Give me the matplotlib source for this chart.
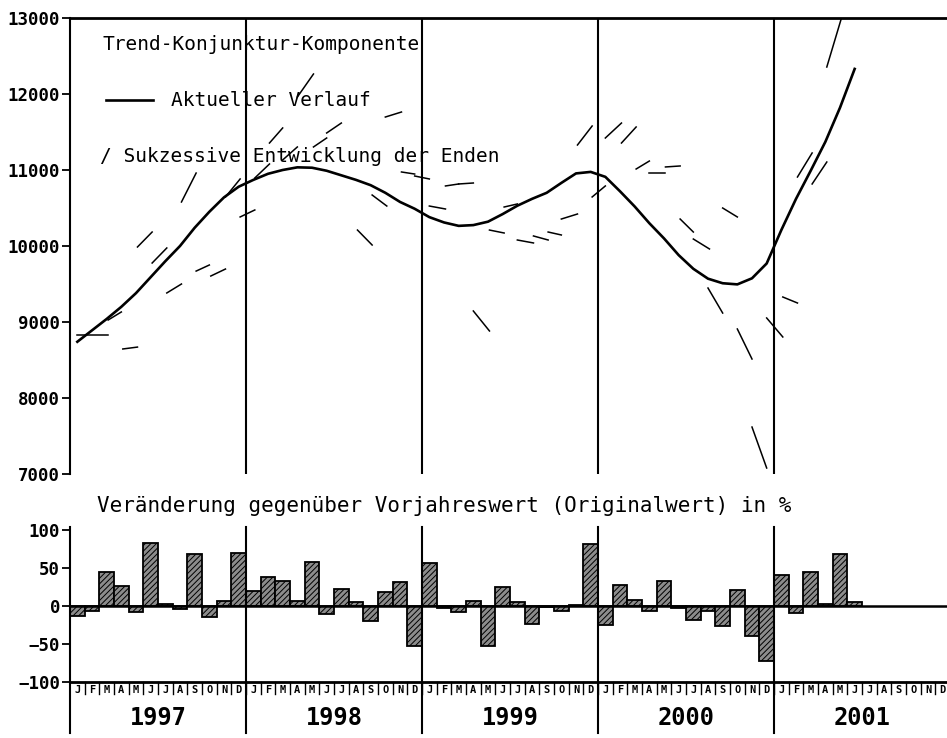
import numpy as np
import matplotlib.pyplot as plt

# trend-cycle component, Jan 1997 .. Jun 2001
trend = [8740, 8890, 9040, 9200, 9380, 9590, 9800, 10000, 10240, 10450, 10640, 10780,
         10870, 10950, 11000, 11035, 11030, 10990, 10930, 10870, 10800, 10700, 10580, 10490,
         10380, 10310, 10265, 10275, 10320, 10420, 10530, 10620, 10700, 10830, 10955, 10975,
         10910, 10720, 10520, 10300, 10100, 9880, 9700, 9570, 9510, 9495, 9575, 9770,
         10210, 10620, 10990, 11370, 11820, 12330]

# successive end estimates (month index start/end, value start/end)
seg_m0 = [0, 2.1, 3.1, 4.1, 5.1, 6.1, 7.1, 8.1, 9.1, 10.1, 11.1, 12.1, 13.1, 14.0, 15.0, 16.1, 17.0,
          19.1, 20.1, 21.0, 22.1, 23.0, 24.0, 25.1, 26.0, 27.0, 28.1, 29.1, 30.0, 31.1, 32.1, 33.0,
          34.1, 35.1, 36.0, 37.1, 38.1, 39.0, 40.1, 41.1, 42.0, 43.0, 44.0, 45.0, 46.0, 47.0, 48.1,
          49.1, 50.1, 51.1]
seg_m1 = [2.1, 3.0, 4.1, 5.1, 6.1, 7.1, 8.1, 9.0, 10.1, 11.1, 12.1, 13.1, 14.0, 15.0, 16.1, 17.0, 18.0,
          20.1, 21.1, 22.1, 23.0, 24.0, 25.1, 26.0, 27.0, 28.1, 29.1, 30.0, 31.1, 32.1, 33.0, 34.1,
          35.1, 36.0, 37.1, 38.1, 39.0, 40.1, 41.1, 42.0, 43.1, 44.0, 45.0, 46.0, 47.0, 48.1, 49.1,
          50.1, 51.1, 52.1]
seg_v0 = [8830, 9026, 8645, 9987, 9776, 9382, 10579, 9670, 9605, 10645, 10382, 10895, 11355, 11132,
          11960, 11303, 11487, 10210, 10671, 11697, 10974, 10921, 10526, 10790, 10816, 9145, 10210,
          10513, 10079, 10132, 10184, 10355, 11329, 10645, 11421, 11355, 11013, 10960, 11040, 10355,
          10092, 9447, 10500, 8908, 7618, 9053, 9329, 10908, 10816, 12355]
seg_v1 = [8830, 9132, 8670, 10184, 9974, 9500, 10960, 9750, 9697, 10882, 10474, 11079, 11553, 11303,
          12263, 11421, 11618, 10013, 10526, 11763, 10947, 10882, 10487, 10816, 10829, 8882, 10171,
          10553, 10040, 10079, 10145, 10421, 11579, 10790, 11618, 11566, 11118, 10960, 11053, 10184,
          9961, 9118, 10382, 8513, 7079, 8803, 9250, 11224, 11105, 13000]

# change against previous year's value (%)
chg_1997 = [-13, -6, 45, 26, -8, 83, 3, -4, 68, -14, 7, 70]
chg_1998 = [20, 38, 33, 6, 58, -10, 22, 5, -20, 19, 31, -53]
chg_1999 = [57, -3, -8, 6, -53, 25, 5, -24, -1, -6, 1, 81]
chg_2000 = [-25, 28, 8, -7, 33, -2, -19, -7, -26, 21, -40, -72]
chg_2001 = [41, -9, 45, 3, 68, 5]

years = ['1997', '1998', '1999', '2000', '2001']
month_letters = ['J', 'F', 'M', 'A', 'M', 'J', 'J', 'A', 'S', 'O', 'N', 'D']

mono = 'DejaVu Sans Mono'
W, H = 947, 738
fig = plt.figure(figsize=(W / 100, H / 100), dpi=100)
ax = fig.add_axes([70 / W, 1 - 474 / H, 1 - 70 / W, (474 - 18) / H])
ax2 = fig.add_axes([70 / W, 1 - 682 / H, 1 - 70 / W, (682 - 530) / H])
xmax = 877 / (176 / 12)

# ---- top panel
ax.plot(np.arange(len(trend)) + 0.5, trend, '-k', lw=1.9, solid_joinstyle='round')
for m0, m1, v0, v1 in zip(seg_m0, seg_m1, seg_v0, seg_v1):
    ax.plot([m0 + 0.5, m1 + 0.5], [v0, v1], '-k', lw=1.1)
for b in range(12, 60, 12):
    ax.axvline(b, color='k', lw=1.5)

ax.set_xlim(0, xmax)
ax.set_ylim(7000, 13000)
ax.set_yticks(range(7000, 13001, 1000))
ax.set_xticks([])
for s in ['right', 'bottom']:
    ax.spines[s].set_visible(False)
ax.spines['top'].set_linewidth(2)
ax.spines['left'].set_linewidth(1.5)
ax.tick_params(axis='y', direction='out', length=6, width=1.3, pad=1)
for lab in ax.get_yticklabels():
    lab.set_fontfamily(mono)
    lab.set_fontweight('bold')
    lab.set_fontsize(12.5)

def axpos(px, py):
    return (px - 70) / 877, (474 - py) / 456

ax.text(*axpos(102, 45), 'Trend-Konjunktur-Komponente', transform=ax.transAxes,
        fontfamily=mono, fontsize=14, va='center')
x0, y0 = axpos(106, 100)
x1, _ = axpos(153, 100)
ax.plot([x0, x1], [y0, y0], '-k', lw=1.9, transform=ax.transAxes)
ax.text(*axpos(171, 101), 'Aktueller Verlauf', transform=ax.transAxes,
        fontfamily=mono, fontsize=14, va='center')
ax.text(*axpos(100, 157), '/ Sukzessive Entwicklung der Enden', transform=ax.transAxes,
        fontfamily=mono, fontsize=14, va='center')

# ---- bottom panel
chg = chg_1997 + chg_1998 + chg_1999 + chg_2000 + chg_2001
plt.rcParams['hatch.linewidth'] = 0.7
ax2.bar(np.arange(len(chg)) + 0.5, chg, width=1.0, facecolor='#8c8c8c',
        edgecolor='black', hatch='//////', linewidth=1.3)
ax2.axhline(0, color='k', lw=1.8)
ax2.set_xlim(0, xmax)
ax2.set_ylim(-100, 100)
ax2.set_yticks([-100, -50, 0, 50, 100])
ax2.set_xticks([])
for s in ['right', 'top', 'left']:
    ax2.spines[s].set_visible(False)
ax2.spines['bottom'].set_linewidth(2)
ax2.tick_params(axis='y', direction='out', length=6, width=1.3, pad=1)
for lab in ax2.get_yticklabels():
    lab.set_fontfamily(mono)
    lab.set_fontweight('bold')
    lab.set_fontsize(12.5)

px = 200 / 152
ax2.plot([0, 0], [-100 - 51 * px, 100 + 3 * px], '-k', lw=1.5, clip_on=False)
for b in range(12, 60, 12):
    ax2.plot([b, b], [-100 - 51 * px, 100 + 3 * px], '-k', lw=1.5, clip_on=False)
for k in range(60):
    ax2.plot([k + 1, k + 1], [-100, -100 - 12 * px], '-k', lw=1.0, clip_on=False)
    ax2.text(k + 0.5, -100 - 8 * px, month_letters[k % 12], ha='center', va='center',
             fontfamily=mono, fontweight='bold', fontsize=7.5, clip_on=False)
for i, y in enumerate(years):
    ax2.text(12 * i + 6, -100 - 36 * px, y, ha='center', va='center',
             fontfamily=mono, fontweight='bold', fontsize=17, clip_on=False)

fig.text(97 / W, 1 - 506 / H, 'Veränderung gegenüber Vorjahreswert (Originalwert) in %',
         fontfamily=mono, fontsize=15, va='center')

fig.savefig('out.png', dpi=100)
